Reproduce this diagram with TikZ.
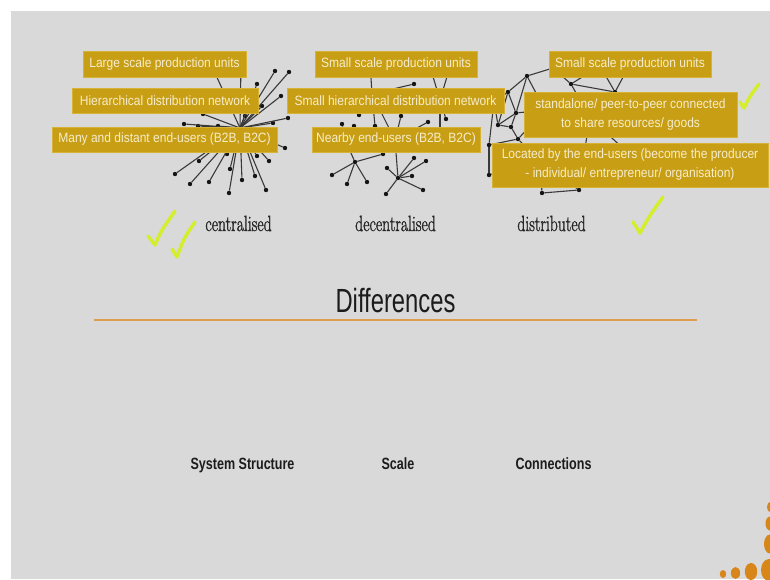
\documentclass[tikz,border=0pt]{standalone}
\usepackage{fontspec}
\usepackage{graphicx}
\newfontfamily\arialish{Liberation Sans}
\newfontfamily\kindfont[FakeBold=1.6]{Latin Modern Roman}
\newcommand\squeeze[2]{\scalebox{#1}[1]{#2}}
\newcommand\tagtxt[1]{\squeeze{0.89}{#1}}
\definecolor{slidebg}{HTML}{D9D9D9}
\definecolor{tagfill}{HTML}{C89E14}
\definecolor{tagedge}{HTML}{D6B236}
\definecolor{tagtext}{HTML}{F6EDCB}
\definecolor{netline}{HTML}{3A3A3A}
\definecolor{netdot}{HTML}{151515}
\definecolor{kindtext}{HTML}{262626}
\definecolor{titletext}{HTML}{1C1C1C}
\definecolor{rulecol}{HTML}{DC9E4C}
\definecolor{tickgreen}{HTML}{D4EE2C}
\definecolor{cornerdot}{HTML}{D8861A}
\begin{document}
\begin{tikzpicture}[x=1pt,y=-1pt,
  dot/.style={circle,fill=netdot,inner sep=0pt,minimum size=4.4pt},
  link/.style={draw=netline,line width=1.1pt},
  tag/.style={fill=tagfill,draw=tagedge,line width=0.6pt,inner sep=0pt,
    text=tagtext,font=\arialish\fontsize{13.5}{19}\selectfont,align=center},
  kind/.style={font=\kindfont\fontsize{22}{24}\selectfont,text=kindtext,anchor=base,inner sep=0pt},
  heading/.style={font=\arialish\fontsize{33.5}{36}\selectfont,text=titletext,anchor=base,inner sep=0pt},
  aspect/.style={font=\arialish\bfseries\fontsize{16.3}{18}\selectfont,text=titletext,anchor=base,inner sep=0pt},
  tick/.style={draw=tickgreen,line width=3.4pt,line cap=round,line join=round},
  corner/.style={fill=cornerdot}]

% page and slide background
\useasboundingbox (0,0) rectangle (770,579);
\fill[white] (0,0) rectangle (770,579);
\fill[slidebg] (11,11) rectangle (770,579);

% ---------------- centralised network (star) ----------------
\coordinate (c0) at (240,128);
\coordinate (cT1) at (210,62);
\coordinate (cT2) at (241,62);
\foreach \n/\p in {c1/{(275,71)},c2/{(289,72)},c3/{(257,84)},c4/{(281,96)},c5/{(262,106)},
  c6/{(288,118)},c7/{(273,123)},c8/{(285,148)},c9/{(269,161)},c10/{(257,156)},c11/{(266,190)},
  c12/{(255,176)},c13/{(242,180)},c14/{(229,193)},c15/{(230,169)},c16/{(209,182)},c17/{(190,184)},
  c18/{(199,161)},c19/{(175,174)},c20/{(227,154)},c21/{(184,124)},c22/{(198,126)},c23/{(218,126)},
  c24/{(203,114)},c25/{(245,116)}}
  {\node[dot] (\n) at \p {};}
\foreach \n in {c1,c2,c3,c4,c5,c6,c7,c8,c9,c10,c11,c12,c13,c14,c15,c16,c17,c18,c19,c20,c21,c22,c23,c24,c25,cT1,cT2}
  {\path[link] (c0) -- (\n);}

% ---------------- decentralised network (hubs) ----------------
\coordinate (t1) at (370,62);
\coordinate (t2) at (428,60);
\coordinate (t3) at (452,60);
\coordinate (h1) at (372,94);
\coordinate (h2) at (440,100);
\coordinate (h3) at (395,140);
\coordinate (h4) at (440,140);
\coordinate (h5) at (345,140);
\foreach \n/\p in {d2/{(414,84)},d3/{(359,115)},d4/{(342,124)},d5/{(354,126)},d6/{(375,126)},
  d7/{(401,116)},d8/{(428,122)},d9/{(446,119)},
  g1/{(355,162)},e1/{(332,175)},e2/{(347,184)},e3/{(367,182)},e4/{(383,154)},
  g2/{(398,178)},f1/{(387,168)},f2/{(414,158)},f3/{(426,161)},f4/{(412,176)},f5/{(423,190)},f6/{(386,194)}}
  {\node[dot] (\n) at \p {};}
\foreach \a/\b in {h1/t1,h1/d2,h1/d3,h1/d6,h1/h3,h3/d6,h3/d7,h3/d8,h3/g2,h3/h4,
  h2/t2,h2/t3,h2/d9,h2/h4,h5/d4,h5/d5,h5/g1,h5/h3,
  g1/e1,g1/e2,g1/e3,g1/e4,g2/f1,g2/f2,g2/f3,g2/f4,g2/f5,g2/f6}
  {\path[link] (\a) -- (\b);}

% ---------------- distributed network (mesh) ----------------
\coordinate (n1) at (553,68);
\coordinate (n2) at (600,66);
\coordinate (n2b) at (628,68);
\coordinate (n3) at (545,110);
\coordinate (n4) at (590,118);
\coordinate (n5) at (494,102);
\coordinate (n6) at (540,162);
\coordinate (n7) at (582,166);
\coordinate (n8) at (625,150);
\coordinate (n9) at (655,110);
\foreach \n/\p in {m1/{(527,76)},m2/{(571,84)},m3/{(508,92)},m4/{(615,92)},m5/{(516,113)},
  m6/{(498,125)},m7/{(511,127)},m8/{(518,139)},m9/{(489,145)},m10/{(489,175)},
  m11/{(542,193)},m12/{(579,190)}}
  {\node[dot] (\n) at \p {};}
\foreach \a/\b in {m1/n1,m1/m3,m1/m5,m3/m5,m3/n5,m5/m7,m5/m6,m6/m7,m6/n5,m7/m8,m8/m9,
  m9/m10,m9/n5,m8/n3,m8/n6,m10/n6,m11/n6,m11/m12,m12/n7,m12/n6,m2/n1,m2/n2,m2/m4,m4/n2,
  m4/n2b,m2/n4,m4/n4,m4/n9,m5/n3,m1/n3,m3/m6,n3/n4,n4/n7,n6/n7,n7/n8,n4/n8}
  {\path[link] (\a) -- (\b);}

% ---------------- labelled boxes ----------------
\node[tag,minimum width=163pt,minimum height=26pt] (cA) at (164.5,64) {\tagtxt{Large scale production units}};
\node[tag,minimum width=186pt,minimum height=25pt] (cB) at (165,100.5) {\tagtxt{Hierarchical distribution network}};
\node[tag,minimum width=225pt,minimum height=25pt] (cC) at (164.5,139.5) {\tagtxt{Many and distant end-users (B2B, B2C)}};

\node[tag,minimum width=162pt,minimum height=26pt] (dA) at (396,64) {\tagtxt{Small scale production units}};
\node[tag,minimum width=217pt,minimum height=25pt] (dB) at (395.5,100.5) {\tagtxt{Small hierarchical distribution network}};
\node[tag,minimum width=168pt,minimum height=25pt] (dC) at (396,139.5) {\tagtxt{Nearby end-users (B2B, B2C)}};

\node[tag,minimum width=162pt,minimum height=26pt] (pA) at (630,64) {\tagtxt{Small scale production units}};
\node[tag,minimum width=213pt,minimum height=45pt] (pB) at (630.5,114.5)
  {\tagtxt{standalone/ peer-to-peer connected}\\\tagtxt{to share resources/ goods}};
\node[tag,minimum width=276pt,minimum height=44pt] (pC) at (630,165)
  {\tagtxt{Located by the end-users (become the producer}\\\tagtxt{- individual/ entrepreneur/ organisation)}};

% ---------------- network names ----------------
\node[kind] (kC) at (238.5,231) {\squeeze{0.71}{centralised}};
\node[kind] (kD) at (395.5,231) {\squeeze{0.71}{decentralised}};
\node[kind] (kP) at (551.5,231) {\squeeze{0.71}{distributed}};

% ---------------- heading and rule ----------------
\node[heading] (title) at (395.5,312) {\squeeze{0.71}{Differences}};
\coordinate (ruleL) at (94,320);
\coordinate (ruleR) at (697,320);
\draw[rulecol,line width=2.6pt] (ruleL) -- (ruleR);

% ---------------- aspects ----------------
\node[aspect] (sA) at (242.5,469) {\squeeze{0.77}{System Structure}};
\node[aspect] (sB) at (398,469) {\squeeze{0.77}{Scale}};
\node[aspect] (sC) at (553.5,469) {\squeeze{0.77}{Connections}};

% ---------------- hand-drawn ticks ----------------
\draw[tick] (148,236) -- (155,245) .. controls (161,231) .. (175,211);
\draw[tick] (172,249) -- (177,257) .. controls (184,238) .. (195,222);
\draw[tick] (633,222) -- (640,233) .. controls (650,215) .. (663,197);
\draw[tick] (740,102) -- (744,108) .. controls (750,96) .. (759,84);

% ---------------- corner ornament ----------------
\fill[corner] (723,574) ellipse [x radius=3.2, y radius=4];
\fill[corner] (735.5,573) ellipse [x radius=4.6, y radius=6];
\fill[corner] (751,571.5) ellipse [x radius=6.2, y radius=8.5];
\fill[corner] (769,570) ellipse [x radius=8, y radius=11];
\fill[corner] (770,507) ellipse [x radius=3, y radius=5];
\fill[corner] (770,523.5) ellipse [x radius=4.5, y radius=7];
\fill[corner] (770,544) ellipse [x radius=6, y radius=9.5];
\end{tikzpicture}
\end{document}
